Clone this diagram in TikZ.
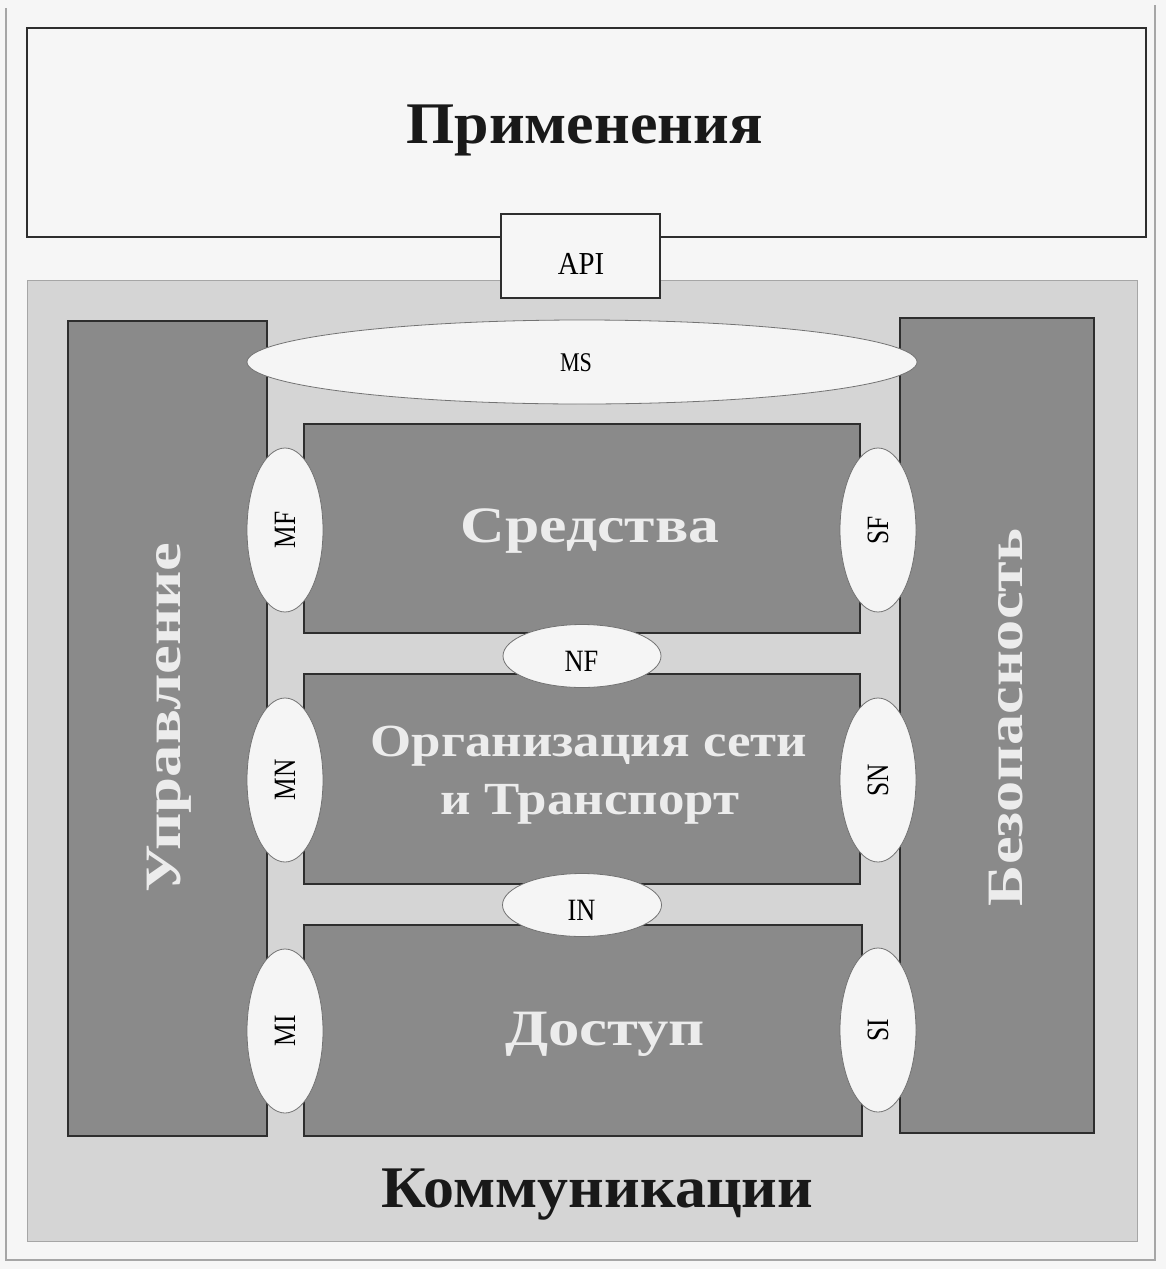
\documentclass[tikz,border=0pt]{standalone}
\usepackage{fontspec}
\setmainfont{Liberation Serif}
\usetikzlibrary{shapes.geometric}
\definecolor{colPage}{HTML}{F6F6F6}
\definecolor{colComm}{HTML}{D5D5D5}
\definecolor{colDark}{HTML}{8A8A8A}
\definecolor{colOval}{HTML}{F5F5F5}
\definecolor{colLight}{HTML}{ECECEC}
\definecolor{colEdge}{HTML}{2E2E2E}
\newcommand{\hsc}[2]{\scalebox{#1}[1]{#2}}
\begin{document}
\begin{tikzpicture}[x=1pt,y=-1pt,
  frameline/.style={draw=black!35, line width=1.2pt},
  whitebox/.style={draw=colEdge, line width=1.8pt, fill=colPage, inner sep=0pt},
  commbox/.style={draw=black!35, line width=1pt, fill=colComm, inner sep=0pt},
  darkcol/.style={draw=colEdge, line width=1.6pt, fill=colDark, inner sep=0pt},
  oval/.style={ellipse, draw=black!55, line width=0.8pt, fill=colOval, inner sep=0pt},
  ovaltext/.style={inner sep=0pt, font=\fontsize{31}{33}\selectfont},
  bigdark/.style={font=\bfseries\fontsize{59}{64}\selectfont, text=black!90, inner sep=0pt, anchor=base},
  biglight/.style={font=\bfseries\fontsize{51}{56}\selectfont, text=colLight, inner sep=0pt, anchor=base}
]
\fill[colPage] (0,0) rectangle (1166,1269);
\useasboundingbox (0,0) rectangle (1166,1269);
\draw[frameline] (6,8) -- (6,1260) -- (1155,1260) -- (1155,5);

% Applications
\node[whitebox, minimum width=1119pt, minimum height=209pt] (app) at (586.5,132.5) {};
\node[bigdark] (apptext) at (584.5,143) {\hsc{1.05}{Применения}};

% Communications area
\node[commbox, minimum width=1110pt, minimum height=961pt] (comm) at (582,760.5) {};
\node[bigdark] (commtext) at (597.5,1207) {\hsc{1.05}{Коммуникации}};

% API
\node[whitebox, minimum width=159pt, minimum height=84pt] (api) at (580.5,256) {};
\node[inner sep=0pt, anchor=base, font=\fontsize{32}{34}\selectfont] (apitext) at (581,274) {\hsc{0.9}{API}};

% side columns
\node[darkcol, minimum width=199pt, minimum height=815pt] (mgmt) at (167.5,728.5) {};
\node[biglight, rotate=90] (mgmttext) at (180,717.5) {\hsc{1.27}{Управление}};
\node[darkcol, minimum width=194pt, minimum height=815pt] (sec) at (997,725.5) {};
\node[biglight, rotate=90] (sectext) at (1022,717.5) {\hsc{1.22}{Безопасность}};

% MS
\node[oval, minimum width=670pt, minimum height=84pt] (ms) at (582,362) {};
\node[ovaltext, font=\fontsize{27}{29}\selectfont, anchor=base] (mstext) at (576,371) {\hsc{0.82}{MS}};

% layers
\node[darkcol, minimum width=556pt, minimum height=209pt] (fac) at (582,528.5) {};
\node[biglight] (factext) at (590,542) {\hsc{1.21}{Средства}};
\node[darkcol, minimum width=556pt, minimum height=210pt] (net) at (582,779) {};
\node[biglight, font=\bfseries\fontsize{46}{50}\selectfont] (nettext1) at (589,756) {\hsc{1.15}{Организация сети}};
\node[biglight, font=\bfseries\fontsize{46}{50}\selectfont] (nettext2) at (590,814) {\hsc{1.15}{и Транспорт}};
\node[darkcol, minimum width=558pt, minimum height=211pt] (acc) at (583,1030.5) {};
\node[biglight] (acctext) at (605,1045) {\hsc{1.23}{Доступ}};

% interface ovals
\node[oval, minimum width=76pt, minimum height=164pt] (mf) at (285,530) {};
\node[oval, minimum width=76pt, minimum height=164pt] (sf) at (878,530) {};
\node[oval, minimum width=158pt, minimum height=63pt] (nf) at (582,656) {};
\node[oval, minimum width=76pt, minimum height=164pt] (mn) at (285,780) {};
\node[oval, minimum width=76pt, minimum height=164pt] (sn) at (878,780) {};
\node[oval, minimum width=159pt, minimum height=63pt] (in) at (582,905) {};
\node[oval, minimum width=76pt, minimum height=164pt] (mi) at (285,1031) {};
\node[oval, minimum width=76pt, minimum height=164pt] (si) at (878,1030) {};

\node[ovaltext, rotate=90] (mftext) at (mf) {\hsc{0.82}{MF}};
\node[ovaltext, rotate=90] (sftext) at (sf) {\hsc{0.82}{SF}};
\node[ovaltext, anchor=base] (nftext) at (581.5,671) {\hsc{0.85}{NF}};
\node[ovaltext, rotate=90] (mntext) at (mn) {\hsc{0.82}{MN}};
\node[ovaltext, rotate=90] (sntext) at (sn) {\hsc{0.82}{SN}};
\node[ovaltext, anchor=base] (intext) at (581.5,920) {\hsc{0.85}{IN}};
\node[ovaltext, rotate=90] (mitext) at (mi) {\hsc{0.82}{MI}};
\node[ovaltext, rotate=90] (sitext) at (si) {\hsc{0.82}{SI}};
\end{tikzpicture}
\end{document}
